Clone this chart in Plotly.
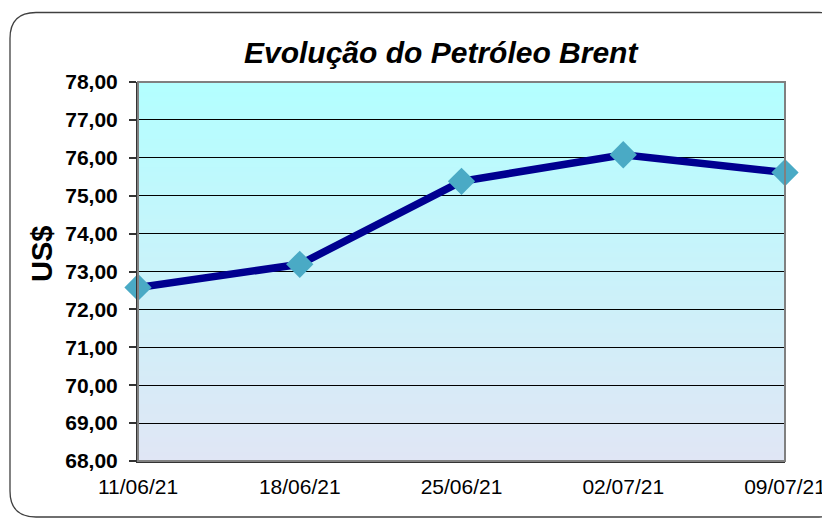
import plotly.graph_objects as go

# ---- data ----
dates = ["11/06/21", "18/06/21", "25/06/21", "02/07/21", "09/07/21"]
brent = [72.58, 73.19, 75.38, 76.08, 75.61]
y_ticks = [68, 69, 70, 71, 72, 73, 74, 75, 76, 77, 78]

W, H = 830, 520
OFF = 8  # page body margin
# plot area in screen pixels
PL, PR, PT, PB = 138, 785, 82, 461
L = PL - OFF
T = PT - OFF
R = W - (PR - OFF)
B = H - (PB - OFF)
PW, PH = PR - PL, PB - PT

def px2paper(x, y):
    return (x - PL) / PW, (PB - y) / PH

fig = go.Figure()
fig.add_trace(go.Scatter(
    x=dates, y=brent, mode="lines+markers",
    line=dict(color="#000090", width=7.5),
    marker=dict(symbol="diamond", size=21, color="#4AAAC5"),
    cliponaxis=False, showlegend=False,
))

shapes = []
# vertical gradient background in the plot area
top = (179, 255, 255)
bot = (224, 230, 245)
n = 80
for i in range(n):
    t = i / (n - 1)
    c = tuple(round(bot[k] + (top[k] - bot[k]) * t) for k in range(3))
    shapes.append(dict(type="rect", xref="paper", yref="paper",
                       x0=0, x1=1, y0=i / n, y1=min(1, (i + 1) / n + 0.002),
                       fillcolor="rgb(%d,%d,%d)" % c, line=dict(width=0),
                       layer="below"))
# plot border (gray on top/right)
shapes.append(dict(type="rect", xref="paper", yref="paper", x0=0, x1=1, y0=0, y1=1,
                   line=dict(color="#808080", width=2), layer="above"))
# rounded outer frame
lft, tp, rt, bt, rad = 10, 12.5, 845, 517, 26
def P(x, y):
    a, b = px2paper(x, y)
    return "%.5f,%.5f" % (a, b)
path = ("M " + P(lft, tp + rad) + " Q " + P(lft, tp) + " " + P(lft + rad, tp) +
        " L " + P(rt - rad, tp) + " Q " + P(rt, tp) + " " + P(rt, tp + rad) +
        " L " + P(rt, bt - rad) + " Q " + P(rt, bt) + " " + P(rt - rad, bt) +
        " L " + P(lft + rad, bt) + " Q " + P(lft, bt) + " " + P(lft, bt - rad) + " Z")
shapes.append(dict(type="path", xref="paper", yref="paper", path=path,
                   line=dict(color="#404040", width=1.3), layer="above"))

tx, ty = px2paper(441, 53)
ux, uy = px2paper(42, 254)
annotations = [
    dict(text="<b><i>Evolução do Petróleo Brent</i></b>", xref="paper", yref="paper",
         x=tx, y=ty, showarrow=False, xanchor="center", yanchor="middle",
         font=dict(family="Liberation Sans", size=30, color="black")),
    dict(text="<b>US$</b>", xref="paper", yref="paper", x=ux, y=uy, textangle=-90,
         showarrow=False, xanchor="center", yanchor="middle",
         font=dict(family="Liberation Sans", size=29, color="black")),
]

fig.update_layout(
    width=W, height=H, autosize=False,
    margin=dict(l=L, r=R, t=T, b=B),
    paper_bgcolor="white", plot_bgcolor="white",
    separators=",.",
    shapes=shapes, annotations=annotations,
    xaxis=dict(type="category", range=[0, len(dates) - 1], showgrid=False,
               showline=True, linecolor="#333333", linewidth=2, ticks="",
               tickfont=dict(family="Liberation Sans", size=21, color="black"),
               ticklabelstandoff=6, zeroline=False, fixedrange=True),
    yaxis=dict(range=[68, 78], tickvals=y_ticks, tickformat=".2f",
               showgrid=True, gridcolor="black", gridwidth=1,
               showline=True, linecolor="#333333", linewidth=2,
               ticks="outside", ticklen=7, tickcolor="#333333", tickwidth=1.5,
               tickfont=dict(family="Liberation Sans", size=21, color="black", weight="bold"),
               ticklabelstandoff=7, zeroline=False, fixedrange=True),
)

fig.write_html("out.html")
